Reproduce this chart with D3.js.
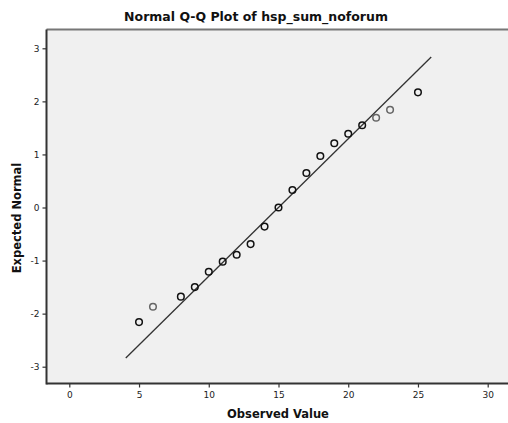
<!DOCTYPE html>
<html><head><meta charset="utf-8">
<script src="https://cdn.jsdelivr.net/npm/d3@7"></script>
<style>body{margin:0;background:#fff;}svg{display:block;}</style>
</head><body>
<script>
const observed = [5, 6, 8, 9, 10, 11, 12, 13, 14, 15, 16, 17, 18, 19, 20, 21, 22, 23, 25];
const expected = [-2.16, -1.87, -1.68, -1.50, -1.21, -1.02, -0.89, -0.69, -0.36, 0.00, 0.33, 0.65, 0.97, 1.21, 1.39, 1.55, 1.69, 1.84, 2.17];
const shade = ["d","l","d","d","d","d","d","d","d","d","d","d","d","d","d","d","l","l","d"];
const xTicks = [0, 5, 10, 15, 20, 25, 30];
const yTicks = [-3, -2, -1, 0, 1, 2, 3];
const refLineX = [4.05, 25.95];
const refMean = 15.0, refSd = 3.86;

const W = 508, H = 423;
const svg = d3.select("body").append("svg").attr("width", W).attr("height", H);
const pL = 46.5, pR = 512, pT = 29.5, pB = 383.5;
const x = d3.scaleLinear().domain([0, 30]).range([69.3, 487.7]);
const y = d3.scaleLinear().domain([-3, 3]).range([366.7, 48.3]);

svg.append("rect").attr("x", pL).attr("y", pT).attr("width", pR-pL).attr("height", pB-pT)
  .attr("fill", "#f0f0f0");
svg.append("line").attr("x1", pL).attr("x2", pR).attr("y1", pT).attr("y2", pT)
  .attr("stroke", "#777").attr("stroke-width", 2);

const font = "'DejaVu Sans', Verdana, sans-serif";
const fmt = d => String(d);
const xAxis = svg.append("g").attr("transform", `translate(0,${pB})`)
  .call(d3.axisBottom(x).tickValues(xTicks).tickFormat(fmt).tickSize(4).tickPadding(4).tickSizeOuter(0));
const yAxis = svg.append("g").attr("transform", `translate(${pL},0)`)
  .call(d3.axisLeft(y).tickValues(yTicks).tickFormat(fmt).tickSize(4).tickPadding(3).tickSizeOuter(0));
[xAxis, yAxis].forEach(g => {
  g.select(".domain").remove();
  g.selectAll("line").attr("stroke", "#333").attr("stroke-width", 1.2);
  g.selectAll("text").attr("fill", "#222").style("font-family", font).style("font-size", "9px");
});
svg.append("line").attr("x1", pL).attr("x2", pL).attr("y1", pT).attr("y2", pB+1)
  .attr("stroke", "#333").attr("stroke-width", 2);
svg.append("line").attr("x1", pL).attr("x2", pR).attr("y1", pB).attr("y2", pB)
  .attr("stroke", "#333").attr("stroke-width", 2);

// reference line
svg.append("line")
  .attr("x1", x(refLineX[0])).attr("y1", y((refLineX[0]-refMean)/refSd))
  .attr("x2", x(refLineX[1])).attr("y2", y((refLineX[1]-refMean)/refSd))
  .attr("stroke", "#333").attr("stroke-width", 1.3);

svg.append("g").selectAll("circle").data(observed).join("circle")
  .attr("cx", d => x(d)).attr("cy", (d, i) => y(expected[i])).attr("r", 3.3)
  .attr("fill", "none").attr("stroke", (d, i) => shade[i] === "d" ? "#111" : "#666")
  .attr("stroke-width", 1.5);

svg.append("text").attr("x", 256).attr("y", 21).attr("text-anchor", "middle")
  .style("font-family", font).style("font-weight", "bold").style("font-size", "12.5px").attr("fill", "#111")
  .text("Normal Q-Q Plot of hsp_sum_noforum");
svg.append("text").attr("x", 278).attr("y", 418).attr("text-anchor", "middle")
  .style("font-family", font).style("font-weight", "bold").style("font-size", "11.5px").attr("fill", "#111")
  .text("Observed Value");
svg.append("text").attr("transform", "translate(21,218) rotate(-90)").attr("text-anchor", "middle")
  .style("font-family", font).style("font-weight", "bold").style("font-size", "11.5px").attr("fill", "#111")
  .text("Expected Normal");
</script>
</body></html>
